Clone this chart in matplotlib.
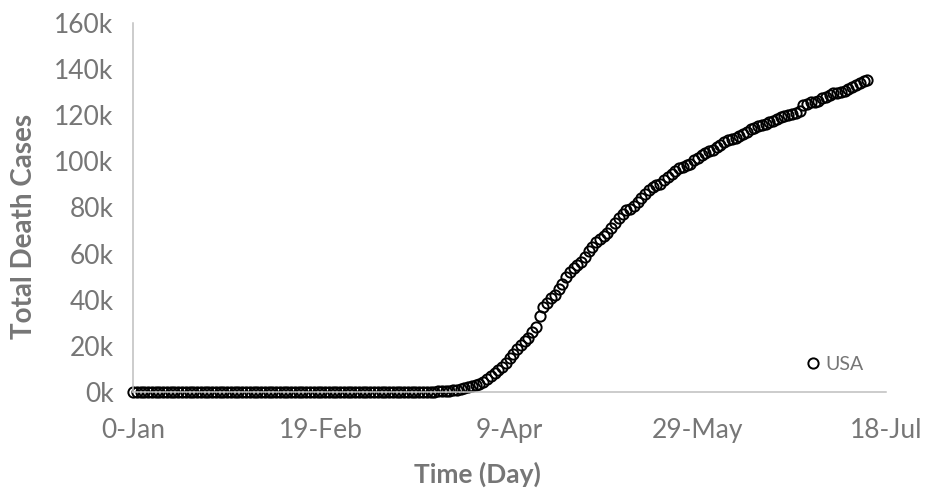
import numpy as np
import matplotlib
matplotlib.use("Agg")
import matplotlib.pyplot as plt
from matplotlib.ticker import FuncFormatter, MultipleLocator

# ---------------------------------------------------------
# Data: cumulative deaths by day number (day 0 .. 195)
# ---------------------------------------------------------
DAY_START = 0
usa_deaths = [
    0, 0, 0, 0, 0, 0, 0, 0, 0, 0,
    0, 0, 0, 0, 0, 0, 0, 0, 0, 0,
    0, 0, 0, 0, 0, 0, 0, 0, 0, 0,
    0, 0, 0, 0, 0, 0, 0, 0, 0, 0,
    0, 0, 0, 0, 0, 0, 0, 0, 0, 0,
    0, 0, 0, 0, 0, 0, 0, 0, 0, 0,
    0, 1, 1, 6, 9, 11, 12, 15, 19, 22,
    26, 30, 38, 41, 48, 57, 68, 86, 109, 150,
    207, 256, 302, 414, 553, 784, 1032, 1301, 1697, 2191,
    2488, 3008, 3606, 4476, 5648, 6889, 8208, 9618, 10783, 12722,
    14695, 16478, 18586, 20463, 22020, 23529, 25832, 28325, 32916, 36773,
    38664, 40661, 42094, 44845, 46784, 49954, 51949, 53755, 54881, 56219,
    58355, 60967, 62996, 64943, 66369, 67682, 68922, 71064, 73431, 75662,
    77180, 78794, 79528, 80682, 82376, 84119, 85898, 87530, 88754, 89562,
    90347, 91921, 93439, 94702, 95979, 97048, 97720, 98220, 98916, 100442,
    101617, 102836, 103781, 104383, 105147, 106195, 107175, 108211, 109143, 109802,
    110173, 110925, 111978, 112908, 113824, 114613, 115339, 115727, 116127, 116862,
    117632, 118365, 119060, 119655, 119959, 120333, 121176, 121979, 124410, 125039,
    125539, 125803, 126140, 127425, 128062, 128740, 129434, 129676, 129947, 130306,
    131480, 132300, 133291, 134097, 134777, 135171,
]
days = np.arange(DAY_START, DAY_START + len(usa_deaths))

x_ticks = [0, 50, 100, 150, 200]
x_tick_labels = ["0-Jan", "19-Feb", "9-Apr", "29-May", "18-Jul"]

# ---------------------------------------------------------
# Plot
# ---------------------------------------------------------
TEXT_GRAY = "#767676"
AXIS_GRAY = "#BFBFBF"
plt.rcParams["font.family"] = ["Lato", "DejaVu Sans"]

fig = plt.figure(figsize=(9.25, 4.97), dpi=100)
ax = fig.add_axes([0.1438, 0.2113, 0.8142, 0.7424])

ax.plot(days, usa_deaths, linestyle="none", marker="o", markersize=7.4,
        markerfacecolor="none", markeredgecolor="black", markeredgewidth=1.4,
        label="USA", clip_on=False)

ax.set_xlim(0, 200)
ax.set_ylim(0, 160000)
ax.set_xticks(x_ticks)
ax.set_xticklabels(x_tick_labels)
ax.yaxis.set_major_locator(MultipleLocator(20000))
ax.yaxis.set_major_formatter(FuncFormatter(lambda v, _: f"{v / 1000:.0f}k"))

ax.tick_params(length=0, labelsize=19, colors=TEXT_GRAY)
ax.tick_params(axis="x", pad=19)
ax.tick_params(axis="y", pad=14)
for side in ("top", "right"):
    ax.spines[side].set_visible(False)
for side in ("left", "bottom"):
    ax.spines[side].set_color(AXIS_GRAY)
    ax.spines[side].set_linewidth(1.1)

ax.set_xlabel("Time (Day)", fontsize=19, fontweight="bold", color=TEXT_GRAY)
ax.set_ylabel("Total Death Cases", fontsize=20, fontweight="bold", color=TEXT_GRAY)
ax.xaxis.set_label_coords(0.457, -0.19)
ax.yaxis.set_label_coords(-0.128, 0.45)

ax.legend(loc="lower right", bbox_to_anchor=(0.98, 0.03), frameon=False,
          fontsize=14, labelcolor=TEXT_GRAY, handlelength=0.6,
          handletextpad=0.3, borderaxespad=0)

fig.savefig("out.png", dpi=100)
